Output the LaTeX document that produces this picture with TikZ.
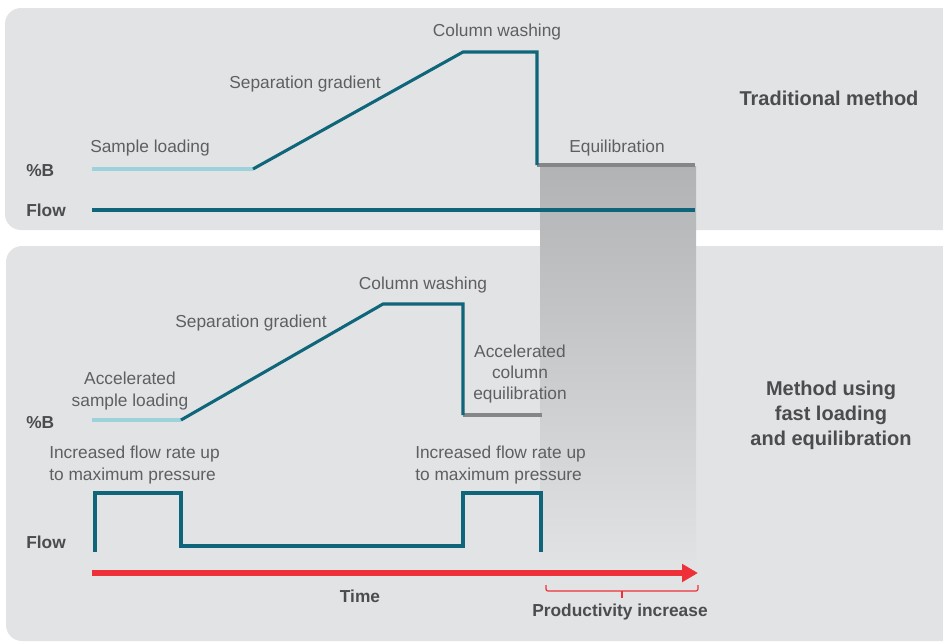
\documentclass[tikz,border=0pt]{standalone}
\usepackage{fontspec}
\setmainfont{Liberation Sans}
\usetikzlibrary{arrows.meta}
\definecolor{panelgray}{HTML}{E2E3E4}
\definecolor{lineteal}{HTML}{0F6579}
\definecolor{loadblue}{HTML}{9DD2DD}
\definecolor{equigray}{HTML}{858688}
\definecolor{timered}{HTML}{EE3138}
\definecolor{labelgray}{HTML}{5E5F61}
\definecolor{headgray}{HTML}{4B4C4E}
\definecolor{shadegray}{HTML}{B2B3B5}
\definecolor{shademid}{HTML}{D6D7D8}
\tikzset{
  panel/.style={fill=panelgray, rounded corners=12},
  trace/.style={draw=lineteal, line width=2.3pt},
  loadline/.style={draw=loadblue, line width=2.6pt},
  equiline/.style={draw=equigray, line width=2.6pt},
  phase/.style={inner sep=0.75pt, text=labelgray, font=\fontsize{13}{16}\selectfont, align=center},
  axislabel/.style={anchor=west, inner sep=0.75pt, text=headgray, font=\fontsize{13}{16}\selectfont\bfseries},
  methodlabel/.style={inner sep=0.75pt, text=headgray, font=\fontsize{15}{18.75}\selectfont\bfseries, align=center},
}
\begin{document}
\begin{tikzpicture}[x=0.75pt,y=0.75pt,yscale=-1,xscale=1]
\useasboundingbox (0,0) rectangle (943,643);
\clip (0,0) rectangle (943,643);

%Shape: Panels
\fill[panel] (5,8) rectangle (965,230);
\fill[panel] (6,246) rectangle (965,641);
%Shape: Time saved
\shade[top color=shadegray, middle color=shademid, bottom color=panelgray] (540,166) rectangle (696,572);

% Traditional method
\coordinate (tload0) at (92,169);
\coordinate (tload1) at (253,169);
\coordinate (twash0) at (463,52);
\coordinate (twash1) at (537,52);
\coordinate (tdrop) at (537,165);
\coordinate (tequi) at (695,165);
\coordinate (tflow0) at (92,210);
\coordinate (tflow1) at (695,210);
%Straight Lines
\draw[loadline] (tload0) -- (tload1);
\draw[trace] (tflow0) -- (tflow1);
\draw[equiline] (tdrop) -- (tequi);
\draw[trace] (tload1) -- (twash0) -- (twash1) -- (tdrop);

% Text Node
\node[axislabel] (tpctb) at (25,171) {\%B};
\node[axislabel] (tflowlab) at (25,210) {Flow};
\node[phase] (tloadlab) at (150,148) {Sample loading};
\node[phase] (tgradlab) at (305,84) {Separation gradient};
\node[phase] (twashlab) at (497,32) {Column washing};
\node[phase] (tequilab) at (617,148) {Equilibration};
\node[methodlabel] (tmethod) at (829,98) {Traditional method};

% Fast loading method
\coordinate (bload0) at (92,420);
\coordinate (bload1) at (181,420);
\coordinate (bwash0) at (383,304);
\coordinate (bwash1) at (463,304);
\coordinate (bdrop) at (463,415);
\coordinate (bequi) at (542,415);
\coordinate (bf0) at (95,552);
\coordinate (bf1) at (95,493);
\coordinate (bf2) at (181,493);
\coordinate (bf3) at (181,546);
\coordinate (bf4) at (463,546);
\coordinate (bf5) at (463,493);
\coordinate (bf6) at (541,493);
\coordinate (bf7) at (541,552);
%Straight Lines
\draw[loadline] (bload0) -- (bload1);
\draw[equiline] (bdrop) -- (bequi);
\draw[trace] (bload1) -- (bwash0) -- (bwash1) -- (bdrop);
\draw[trace] (bf0) -- (bf1) -- (bf2) -- (bf3) -- (bf4) -- (bf5) -- (bf6) -- (bf7);

% Text Node
\node[axislabel] (bpctb) at (25,423) {\%B};
\node[axislabel] (bflowlab) at (25,542) {Flow};
\node[phase] (bloadlab) at (130,391) {Accelerated\\sample loading};
\node[phase] (bgradlab) at (251,323) {Separation gradient};
\node[phase] (bwashlab) at (423,285) {Column washing};
\node[phase] (bequilab) at (520,374) {Accelerated\\column\\equilibration};
\node[phase, anchor=west, align=left] (bflowup0) at (48,465) {Increased flow rate up\\to maximum pressure};
\node[phase, anchor=west, align=left] (bflowup1) at (414,465) {Increased flow rate up\\to maximum pressure};
\node[methodlabel] (bmethod) at (831,415) {Method using\\fast loading\\and equilibration};

% Time axis
\coordinate (time0) at (92,573);
\coordinate (time1) at (698,573);
\draw[timered, line width=4.3pt, -{Triangle[length=12pt,width=13pt]}] (time0) -- (time1);
\node[axislabel, anchor=center] (timelab) at (360,596) {Time};

% Productivity bracket
\coordinate (br0) at (546,585);
\coordinate (br1) at (546,591);
\coordinate (br2) at (698,591);
\coordinate (br3) at (698,585);
\coordinate (brmid) at (622,591);
\coordinate (brtip) at (622,598);
\draw[timered, line width=0.9pt, rounded corners=1.5] (br0) -- (br1) -- (br2) -- (br3);
\draw[timered, line width=0.9pt] (brmid) -- (brtip);
\node[axislabel, anchor=center] (prodlab) at (620,612) {Productivity increase};
\end{tikzpicture}
\end{document}
